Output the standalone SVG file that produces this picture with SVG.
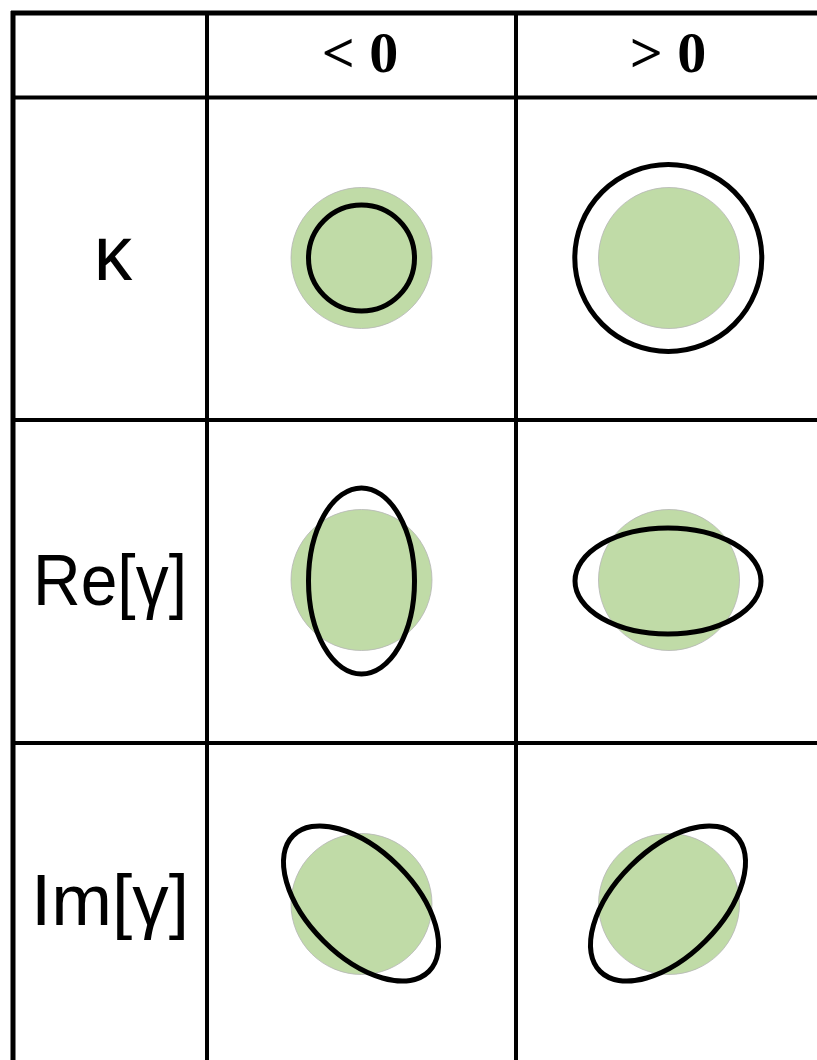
<svg xmlns="http://www.w3.org/2000/svg" width="817" height="1060" viewBox="0 0 817 1060">
<style>
.grid{stroke:#000;fill:none}
.disk{fill:#c0dba7;stroke:#b5b5b5;stroke-width:0.8}
.ring{fill:none;stroke:#000;stroke-width:5}
.hdr{font-family:"Liberation Serif",serif;font-weight:bold;font-size:58px;text-anchor:middle;fill:#000}
.lbl{font-family:"Liberation Sans","DejaVu Sans",sans-serif;font-size:72px;text-anchor:middle;fill:#000}
</style>
<rect width="817" height="1060" fill="#fff"/>
<g id="grid" class="grid">
<line x1="11" y1="13" x2="817" y2="13" stroke-width="5"/>
<line x1="13" y1="11" x2="13" y2="1060" stroke-width="5"/>
<line x1="13" y1="97.5" x2="817" y2="97.5" stroke-width="4"/>
<line x1="13" y1="420" x2="817" y2="420" stroke-width="4"/>
<line x1="13" y1="743" x2="817" y2="743" stroke-width="4"/>
<line x1="207" y1="13" x2="207" y2="1060" stroke-width="4"/>
<line x1="516" y1="13" x2="516" y2="1060" stroke-width="4"/>
</g>
<g id="header">
<text class="hdr" x="360" y="72">&lt; 0</text>
<text class="hdr" x="668" y="72">&gt; 0</text>
</g>
<g id="labels">
<text class="lbl" x="113" y="280" style="font-size:77px">κ</text>
<text class="lbl" x="110" y="605" textLength="154" lengthAdjust="spacingAndGlyphs">Re[γ]</text>
<text class="lbl" x="110" y="925" textLength="158" lengthAdjust="spacingAndGlyphs">Im[γ]</text>
</g>
<g id="kappa-neg">
<circle class="disk" cx="361.5" cy="258" r="70.5"/>
<circle class="ring" cx="361.5" cy="258" r="53"/>
</g>
<g id="kappa-pos">
<circle class="disk" cx="669" cy="258" r="70.5"/>
<circle class="ring" cx="668.3" cy="258" r="93.5"/>
</g>
<g id="re-neg">
<circle class="disk" cx="361.5" cy="580" r="70.5"/>
<ellipse class="ring" cx="361.5" cy="581" rx="53" ry="93"/>
</g>
<g id="re-pos">
<circle class="disk" cx="669" cy="580" r="70.5"/>
<ellipse class="ring" cx="668" cy="581" rx="93" ry="53"/>
</g>
<g id="im-neg">
<circle class="disk" cx="361.5" cy="904" r="70.5"/>
<ellipse class="ring" cx="361" cy="903.5" rx="96" ry="53" transform="rotate(45 361 903.5)"/>
</g>
<g id="im-pos">
<circle class="disk" cx="669" cy="904" r="70.5"/>
<ellipse class="ring" cx="668" cy="903.5" rx="96" ry="53" transform="rotate(-45 668 903.5)"/>
</g>
</svg>
